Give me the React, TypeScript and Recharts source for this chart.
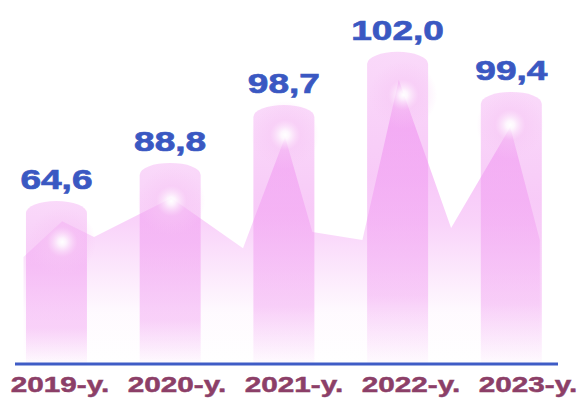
import { ComposedChart, Bar, Area, Scatter, XAxis, YAxis, ReferenceLine, LabelList } from 'recharts';

const years = [2019, 2020, 2021, 2022, 2023];
const values = [64.6, 88.8, 98.7, 102.0, 99.4];
// heights as drawn in the picture (the original is not to scale)
const barHeights = [53.7, 66.3, 85.4, 102.9, 89.7];

// decorative wave behind the bars
const waveX = [2018.71, 2019.05, 2019.33, 2020.01, 2020.64, 2021.01, 2021.25, 2021.69, 2022.01, 2022.47, 2022.99, 2023.25];
const waveY = [35.3, 47.1, 41.9, 54.7, 38.2, 74.8, 43.5, 40.9, 93.6, 44.8, 78.1, 40.9];

// glowing spots
const glowX = [2019.05, 2020.01, 2021.01, 2022.05, 2022.99];
const glowY = [40.2, 53.7, 75.5, 88.7, 78.8];

const barData = years.map((yr, i) => ({ x: yr, y: barHeights[i], value: values[i] }));
const waveData = waveX.map((x, i) => ({ x, y: waveY[i] }));
const glowData = glowX.map((x, i) => ({ x, y: glowY[i] }));
const tickData = years.map((x) => ({ x, y: 0 }));

const FONT = '"Liberation Sans", Arial, sans-serif';
const BAR_W = 61;

const CapBar = (props: any) => {
  const { x, y, width, height } = props;
  const left = x + width / 2 - BAR_W / 2;
  const ry = 12;
  const d = `M${left},${y + height} L${left},${y + ry} A${BAR_W / 2},${ry} 0 0 1 ${left + BAR_W},${y + ry} L${left + BAR_W},${y + height} Z`;
  return <path d={d} fill="url(#barFill)" />;
};

const Glow = (props: any) => <circle cx={props.cx} cy={props.cy} r={34} fill="url(#glow)" />;

const ValueLabel = (props: any) => {
  const { x, y, width, value } = props;
  return (
    <text
      transform={`translate(${x + width / 2},${y - 12}) scale(1.3,1)`}
      textAnchor="middle"
      fill="#3a58c2"
      stroke="#3a58c2"
      strokeWidth={0.7}
      fontSize={28.5}
      fontWeight="bold"
      fontFamily={FONT}
    >
      {Number(value).toFixed(1).replace('.', ',')}
    </text>
  );
};

const YearTick = (props: any) => {
  const { x, y, payload } = props;
  return (
    <text
      transform={`translate(${x},${y + 28}) scale(1.32,1)`}
      textAnchor="middle"
      fill="#8c3f68"
      stroke="#8c3f68"
      strokeWidth={0.5}
      fontSize={22.5}
      fontWeight="bold"
      fontFamily={FONT}
    >
      {`${payload.value}-y.`}
    </text>
  );
};

export default function App() {
  return (
    <div style={{ position: 'absolute', left: 0, top: 0, background: '#fff' }}>
      <ComposedChart width={580} height={403} data={barData} margin={{ top: 0, right: 22, bottom: 0, left: 15 }}>
        <defs>
          <linearGradient id="barFill" x1="0" y1="0" x2="0" y2="1">
            <stop offset="0%" stopColor="#f096f0" stopOpacity={0.36} />
            <stop offset="40%" stopColor="#f096f0" stopOpacity={0.5} />
            <stop offset="78%" stopColor="#f096f0" stopOpacity={0.42} />
            <stop offset="100%" stopColor="#f096f0" stopOpacity={0.04} />
          </linearGradient>
          <linearGradient id="waveFill" x1="0" y1="0" x2="0" y2="1">
            <stop offset="0%" stopColor="#ee84f0" stopOpacity={0.62} />
            <stop offset="50%" stopColor="#ee84f0" stopOpacity={0.36} />
            <stop offset="82%" stopColor="#ee84f0" stopOpacity={0.04} />
            <stop offset="100%" stopColor="#ee84f0" stopOpacity={0} />
          </linearGradient>
          <radialGradient id="glow">
            <stop offset="0%" stopColor="#ffffff" stopOpacity={1} />
            <stop offset="12%" stopColor="#ffffff" stopOpacity={0.8} />
            <stop offset="45%" stopColor="#f7c8f5" stopOpacity={0.45} />
            <stop offset="100%" stopColor="#f7c8f5" stopOpacity={0} />
          </radialGradient>
        </defs>
        <XAxis
          xAxisId="labels"
          dataKey="x"
          type="number"
          domain={[2018.615, 2023.256]}
          ticks={years}
          allowDataOverflow
          axisLine={false}
          tickLine={false}
          tickSize={0}
          tickMargin={0}
          height={39}
          tick={<YearTick />}
          interval={0}
        />
        <XAxis
          xAxisId="bars"
          dataKey="x"
          type="number"
          domain={[2018.635, 2023.41]}
          ticks={years}
          allowDataOverflow
          height={0}
          hide
        />
        <YAxis yAxisId="v" dataKey="y" type="number" domain={[0, 120]} allowDataOverflow hide />
        <Bar xAxisId="bars" yAxisId="v" dataKey="y" barSize={BAR_W} shape={<CapBar />} isAnimationActive={false}>
          <LabelList dataKey="value" content={<ValueLabel />} />
        </Bar>
        <Area
          xAxisId="bars"
          yAxisId="v"
          data={waveData}
          dataKey="y"
          type="linear"
          stroke="none"
          fill="url(#waveFill)"
          fillOpacity={1}
          isAnimationActive={false}
        />
        <Scatter xAxisId="bars" yAxisId="v" data={glowData} dataKey="y" shape={<Glow />} isAnimationActive={false} />
        <Scatter xAxisId="labels" yAxisId="v" data={tickData} dataKey="y" shape={() => <g />} isAnimationActive={false} />
        <ReferenceLine xAxisId="bars" yAxisId="v" y={0} stroke="#3f5cc6" strokeWidth={3} />
      </ComposedChart>
    </div>
  );
}
